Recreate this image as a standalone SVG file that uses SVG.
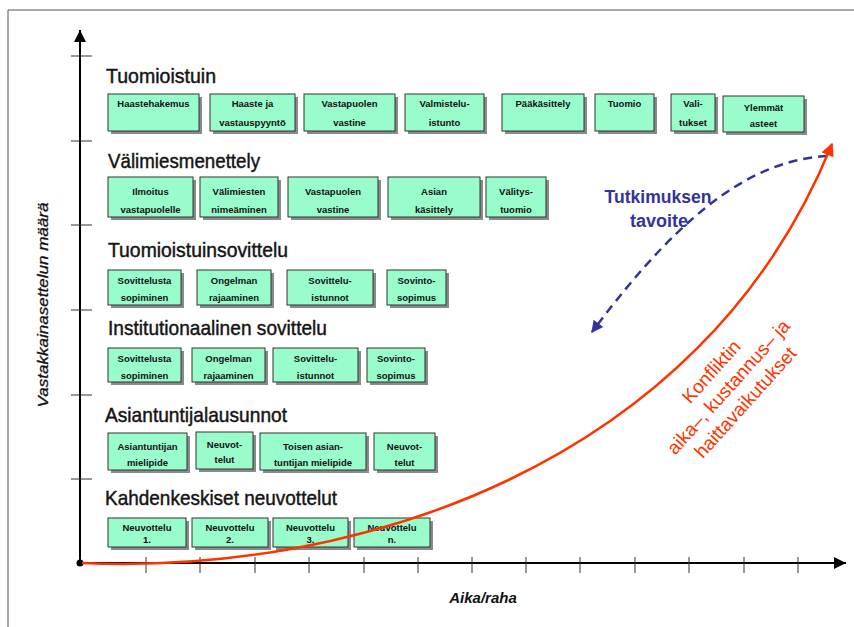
<svg xmlns="http://www.w3.org/2000/svg" width="854" height="627" viewBox="0 0 854 627">
<style>
.title{font-family:"Liberation Sans",Arial,sans-serif;font-size:21px;fill:#141414;stroke:#141414;stroke-width:0.45;}
.bt{font-family:"Liberation Sans",Arial,sans-serif;font-size:9.5px;font-weight:bold;fill:#111;text-anchor:middle;}
.box{fill:#99fccb;stroke:#333;stroke-width:1;}
.shadow{fill:#8a8a8a;}
.axis{stroke:#000;stroke-width:2;fill:none;}
.tick{stroke:#333;stroke-width:1;}
</style>
<defs>
<marker id="blackHead" viewBox="0 0 10 10" refX="10" refY="5" markerWidth="12" markerHeight="12" markerUnits="userSpaceOnUse" orient="auto">
<path d="M0,0 L10,5 L0,10 z" fill="#000"/>
</marker>
<marker id="redHead" viewBox="0 0 10 10" refX="9" refY="5" markerWidth="15" markerHeight="13" markerUnits="userSpaceOnUse" orient="auto">
<path d="M0,0 L10,5 L0,10 z" fill="#ff3300"/>
</marker>
<marker id="blueHead" viewBox="0 0 10 10" refX="9" refY="5" markerWidth="13" markerHeight="12" markerUnits="userSpaceOnUse" orient="auto-start-reverse">
<path d="M0,0 L10,5 L0,10 z" fill="#333399"/>
</marker>
</defs>
<rect x="0" y="0" width="854" height="627" fill="#fff"/>
<path d="M8,627 L8,10 L854,10" stroke="#555" stroke-width="1" fill="none"/>

<g id="axes">
<line class="axis" x1="80" y1="563" x2="80" y2="30" marker-end="url(#blackHead)"/>
<line class="axis" x1="80" y1="563" x2="846" y2="563" marker-end="url(#blackHead)"/>
<circle cx="80" cy="563" r="3.5" fill="#000"/>
<g class="tick">
<line x1="71" y1="56" x2="92" y2="56"/><line x1="71" y1="141" x2="92" y2="141"/><line x1="71" y1="225" x2="92" y2="225"/><line x1="71" y1="310" x2="92" y2="310"/><line x1="71" y1="395" x2="92" y2="395"/><line x1="71" y1="479" x2="92" y2="479"/>
<line x1="146" y1="557" x2="146" y2="573"/><line x1="200" y1="557" x2="200" y2="573"/><line x1="255" y1="557" x2="255" y2="573"/><line x1="309" y1="557" x2="309" y2="573"/><line x1="364" y1="557" x2="364" y2="573"/><line x1="418" y1="557" x2="418" y2="573"/><line x1="472" y1="557" x2="472" y2="573"/><line x1="526" y1="557" x2="526" y2="573"/><line x1="580" y1="557" x2="580" y2="573"/><line x1="635" y1="557" x2="635" y2="573"/><line x1="689" y1="557" x2="689" y2="573"/><line x1="744" y1="557" x2="744" y2="573"/><line x1="798" y1="557" x2="798" y2="573"/>
</g>
<text x="48" y="305" transform="rotate(-90 48 305)" font-family="Liberation Sans, Arial, sans-serif" font-size="15" font-style="italic" text-anchor="middle" textLength="205" lengthAdjust="spacingAndGlyphs" fill="#111" stroke="#111" stroke-width="0.3">Vastakkainasettelun määrä</text>
<text x="483" y="603" font-family="Liberation Sans, Arial, sans-serif" font-size="15" font-style="italic" font-weight="bold" text-anchor="middle" fill="#111">Aika/raha</text>
</g>

<g id="row-tuomioistuin">
<text class="title" x="106" y="83" textLength="110" lengthAdjust="spacingAndGlyphs">Tuomioistuin</text>
<g id="n-haastehakemus"><rect class="shadow" x="111" y="97" width="91" height="37"/><rect class="box" x="108" y="94" width="91" height="37"/><text class="bt" x="153.5" y="107">Haastehakemus</text></g>
<g id="n-haaste"><rect class="shadow" x="213" y="97" width="85" height="37"/><rect class="box" x="210" y="94" width="85" height="37"/><text class="bt" x="252.5" y="107">Haaste ja</text><text class="bt" x="252.5" y="126">vastauspyyntö</text></g>
<g id="n-vastapuolen1"><rect class="shadow" x="307" y="97" width="91" height="37"/><rect class="box" x="304" y="94" width="91" height="37"/><text class="bt" x="349.5" y="107">Vastapuolen</text><text class="bt" x="349.5" y="126">vastine</text></g>
<g id="n-valmistelu"><rect class="shadow" x="408" y="97" width="79" height="37"/><rect class="box" x="405" y="94" width="79" height="37"/><text class="bt" x="444.5" y="107">Valmistelu-</text><text class="bt" x="444.5" y="126">istunto</text></g>
<g id="n-paakasittely"><rect class="shadow" x="505" y="97" width="82" height="37"/><rect class="box" x="502" y="94" width="82" height="37"/><text class="bt" x="543" y="107">Pääkäsittely</text></g>
<g id="n-tuomio"><rect class="shadow" x="598" y="97" width="59" height="37"/><rect class="box" x="595" y="94" width="59" height="37"/><text class="bt" x="624.5" y="107">Tuomio</text></g>
<g id="n-valitukset"><rect class="shadow" x="674" y="97" width="44" height="37"/><rect class="box" x="671" y="94" width="44" height="37"/><text class="bt" x="693" y="107">Vali-</text><text class="bt" x="693" y="126">tukset</text></g>
<g id="n-ylemmat"><rect class="shadow" x="726" y="99" width="81" height="36"/><rect class="box" x="723" y="96" width="81" height="36"/><text class="bt" x="763.5" y="111">Ylemmät</text><text class="bt" x="763.5" y="127">asteet</text></g>
</g>

<g id="row-valimies">
<text class="title" x="108" y="168" textLength="152" lengthAdjust="spacingAndGlyphs">Välimiesmenettely</text>
<g id="n-ilmoitus"><rect class="shadow" x="111" y="180" width="85" height="40"/><rect class="box" x="108" y="177" width="85" height="40"/><text class="bt" x="150.5" y="195">Ilmoitus</text><text class="bt" x="150.5" y="213">vastapuolelle</text></g>
<g id="n-valimiesten"><rect class="shadow" x="203" y="180" width="78" height="40"/><rect class="box" x="200" y="177" width="78" height="40"/><text class="bt" x="239" y="195">Välimiesten</text><text class="bt" x="239" y="213">nimeäminen</text></g>
<g id="n-vastapuolen2"><rect class="shadow" x="291" y="180" width="90" height="40"/><rect class="box" x="288" y="177" width="90" height="40"/><text class="bt" x="333" y="195">Vastapuolen</text><text class="bt" x="333" y="213">vastine</text></g>
<g id="n-asian"><rect class="shadow" x="391" y="180" width="92" height="40"/><rect class="box" x="388" y="177" width="92" height="40"/><text class="bt" x="434" y="195">Asian</text><text class="bt" x="434" y="213">käsittely</text></g>
<g id="n-valitys"><rect class="shadow" x="489" y="180" width="60" height="40"/><rect class="box" x="486" y="177" width="60" height="40"/><text class="bt" x="516" y="195">Välitys-</text><text class="bt" x="516" y="213">tuomio</text></g>
</g>

<g id="row-tuomioistuinsovittelu">
<text class="title" x="108" y="257" textLength="180" lengthAdjust="spacingAndGlyphs">Tuomioistuinsovittelu</text>
<g id="n-ts-sovittelusta"><rect class="shadow" x="111" y="273" width="73" height="35"/><rect class="box" x="108" y="270" width="73" height="35"/><text class="bt" x="144.5" y="284">Sovittelusta</text><text class="bt" x="144.5" y="301">sopiminen</text></g>
<g id="n-ts-ongelman"><rect class="shadow" x="200" y="273" width="74" height="35"/><rect class="box" x="197" y="270" width="74" height="35"/><text class="bt" x="234" y="284">Ongelman</text><text class="bt" x="234" y="301">rajaaminen</text></g>
<g id="n-ts-istunnot"><rect class="shadow" x="290" y="273" width="86" height="35"/><rect class="box" x="287" y="270" width="86" height="35"/><text class="bt" x="330" y="284">Sovittelu-</text><text class="bt" x="330" y="301">istunnot</text></g>
<g id="n-ts-sovinto"><rect class="shadow" x="390" y="273" width="59" height="35"/><rect class="box" x="387" y="270" width="59" height="35"/><text class="bt" x="416.5" y="284">Sovinto-</text><text class="bt" x="416.5" y="301">sopimus</text></g>
</g>

<g id="row-institutionaalinen">
<text class="title" x="108" y="335" textLength="219" lengthAdjust="spacingAndGlyphs">Institutionaalinen sovittelu</text>
<g id="n-is-sovittelusta"><rect class="shadow" x="111" y="351" width="73" height="34"/><rect class="box" x="108" y="348" width="73" height="34"/><text class="bt" x="144.5" y="362">Sovittelusta</text><text class="bt" x="144.5" y="379">sopiminen</text></g>
<g id="n-is-ongelman"><rect class="shadow" x="195" y="351" width="73" height="34"/><rect class="box" x="192" y="348" width="73" height="34"/><text class="bt" x="228.5" y="362">Ongelman</text><text class="bt" x="228.5" y="379">rajaaminen</text></g>
<g id="n-is-istunnot"><rect class="shadow" x="276" y="351" width="85" height="34"/><rect class="box" x="273" y="348" width="85" height="34"/><text class="bt" x="315.5" y="362">Sovittelu-</text><text class="bt" x="315.5" y="379">istunnot</text></g>
<g id="n-is-sovinto"><rect class="shadow" x="370" y="351" width="58" height="34"/><rect class="box" x="367" y="348" width="58" height="34"/><text class="bt" x="396" y="362">Sovinto-</text><text class="bt" x="396" y="379">sopimus</text></g>
</g>

<g id="row-asiantuntija">
<text class="title" x="105" y="422" textLength="182" lengthAdjust="spacingAndGlyphs">Asiantuntijalausunnot</text>
<g id="n-asiantuntijan"><rect class="shadow" x="111" y="436" width="79" height="37"/><rect class="box" x="108" y="433" width="79" height="37"/><text class="bt" x="147.5" y="450">Asiantuntijan</text><text class="bt" x="147.5" y="466">mielipide</text></g>
<g id="n-neuvotelut1"><rect class="shadow" x="199" y="435" width="57" height="37"/><rect class="box" x="196" y="432" width="57" height="37"/><text class="bt" x="224.5" y="448">Neuvot-</text><text class="bt" x="224.5" y="463">telut</text></g>
<g id="n-toisen"><rect class="shadow" x="263" y="436" width="106" height="37"/><rect class="box" x="260" y="433" width="106" height="37"/><text class="bt" x="313" y="450">Toisen asian-</text><text class="bt" x="313" y="466">tuntijan mielipide</text></g>
<g id="n-neuvotelut2"><rect class="shadow" x="377" y="436" width="61" height="37"/><rect class="box" x="374" y="433" width="61" height="37"/><text class="bt" x="404.5" y="450">Neuvot-</text><text class="bt" x="404.5" y="466">telut</text></g>
</g>

<g id="row-kahdenkeskiset">
<text class="title" x="105" y="505" textLength="232" lengthAdjust="spacingAndGlyphs">Kahdenkeskiset neuvottelut</text>
<g id="n-neuvottelu1"><rect class="shadow" x="111" y="521" width="78" height="29"/><rect class="box" x="108" y="518" width="78" height="29"/><text class="bt" x="147" y="531">Neuvottelu</text><text class="bt" x="147" y="543">1.</text></g>
<g id="n-neuvottelu2"><rect class="shadow" x="195" y="521" width="76" height="29"/><rect class="box" x="192" y="518" width="76" height="29"/><text class="bt" x="230" y="531">Neuvottelu</text><text class="bt" x="230" y="543">2.</text></g>
<g id="n-neuvottelu3"><rect class="shadow" x="276" y="521" width="75" height="29"/><rect class="box" x="273" y="518" width="75" height="29"/><text class="bt" x="310.5" y="531">Neuvottelu</text><text class="bt" x="310.5" y="543">3.</text></g>
<g id="n-neuvotteluN"><rect class="shadow" x="357" y="521" width="76" height="29"/><rect class="box" x="354" y="518" width="76" height="29"/><text class="bt" x="392" y="531">Neuvottelu</text><text class="bt" x="392" y="543">n.</text></g>
</g>

<g id="connectors">
<path d="M827,156 C760,160 690,200 592,332" fill="none" stroke="#333399" stroke-width="2.5" stroke-dasharray="9,6" marker-end="url(#blueHead)"/>
<path d="M82,563 C350,575 700,470 832,144" fill="none" stroke="#ff3300" stroke-width="2.5" marker-end="url(#redHead)"/>
</g>

<g id="labels">
<text font-family="Liberation Sans, Arial, sans-serif" font-size="18" font-weight="bold" fill="#333399" text-anchor="middle"><tspan x="658" y="203" textLength="107" lengthAdjust="spacingAndGlyphs">Tutkimuksen</tspan><tspan x="659" y="227">tavoite</tspan></text>
<g transform="translate(716,376) rotate(-48)" font-family="Liberation Sans, Arial, sans-serif" font-size="19" fill="#ff3300" text-anchor="middle">
<text x="0" y="0">Konfliktin</text>
<text x="0" y="23">aika–, kustannus– ja</text>
<text x="0" y="46">haittavaikutukset</text>
</g>
</g>
</svg>
